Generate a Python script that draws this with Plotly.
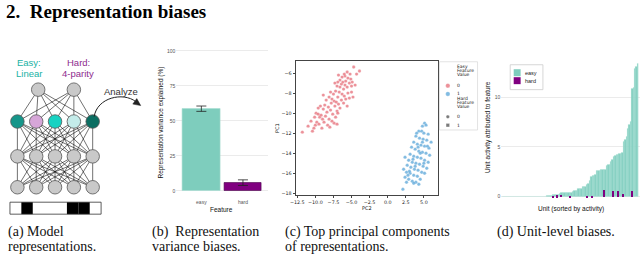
import plotly.graph_objects as go

W, H = 640, 255

# ---------------- data ----------------
# Panel a: network diagram
layer_sizes = [2, 5, 5, 5]
hidden_colors = ["#16968a", "#d6a6d8", "#18d2c2", "#c4ecea", "#0b6e62"]
input_bits = [0, 1, 0, 0, 0, 1, 1, 0]

# Panel b: variance explained
features = ["easy", "hard"]
variance_explained = [58.7, 5.9]
variance_err = [1.9, 2.0]

# Panel c: PCA (easy feature value 0 = red, 1 = blue)
red_pc2 = [-11.8, -10.4, -10.2, -10.0, -10.6, -9.8, -9.5, -9.4, -9.9, -9.6, -9.2, -9.0, -8.8, -8.3,
           -8.0, -8.6, -8.4, -8.9, -9.3, -8.7, -8.2, -7.9, -7.6, -7.4, -7.2, -7.0, -7.3, -7.8, -8.5,
           -8.1, -7.7, -7.4, -7.1, -6.8, -6.6, -6.4, -6.9, -7.5, -7.9, -7.2, -6.7, -6.3, -6.0, -5.8,
           -5.5, -5.3, -6.1, -6.6, -7.0, -6.4, -5.9, -5.6, -6.2, -5.8, -5.3, -5.0, -6.6, -6.9, -6.3,
           -5.9, -5.5, -5.1, -4.9, -6.0, -4.7, -3.9, -4.3, -5.2, -4.5, -4.8, -5.6, -8.9, -9.6, -10.1,
           -11.0, -8.1, -7.7, -6.9, -7.0, -9.1, -6.1, -5.0, -7.3, -5.6, -6.8]
red_pc1 = [-11.9, -11.8, -11.5, -11.2, -10.8, -10.9, -11.1, -10.4, -10.0, -10.1, -10.2, -10.6, -10.9, -11.2,
           -11.4, -10.3, -9.9, -9.6, -9.3, -9.2, -9.4, -9.7, -10.1, -11.0, -10.4, -9.8, -9.3, -9.0, -8.7,
           -8.4, -8.6, -8.8, -8.9, -9.1, -9.5, -8.7, -8.4, -8.1, -7.9, -7.8, -7.9, -8.1, -8.3, -8.6,
           -8.0, -8.5, -7.6, -7.4, -7.3, -7.1, -7.2, -7.4, -6.9, -6.8, -7.0, -7.3, -6.7, -6.9, -6.4,
           -6.3, -6.5, -6.6, -6.9, -6.1, -5.4, -5.8, -6.1, -6.1, -7.2, -8.4, -9.3, -8.2, -9.5, -10.4,
           -11.3, -10.6, -10.8, -10.0, -11.1, -11.5, -9.0, -7.9, -7.0, -5.9, -6.2]
blue_pc2 = [5.1, 4.8, 5.3, 4.3, 4.7, 5.0, 5.6, 3.9, 4.4, 4.9, 5.4, 6.0, 3.6, 4.1, 4.6, 5.1, 5.7, 3.3,
            3.8, 4.3, 4.8, 5.3, 5.8, 3.1, 3.6, 4.1, 4.6, 5.1, 5.6, 2.4, 2.9, 3.4, 3.9, 4.4, 4.9, 5.4,
            2.7, 3.2, 3.7, 4.2, 4.7, 2.2, 2.6, 3.1, 3.6, 4.1, 2.4, 2.9, 3.4, 3.9, 4.5, 3.6, 4.3, 2.1,
            5.1, 5.5, 4.0, 4.5, 3.0, 2.6, 5.0, 4.2, 3.5, 4.8, 3.8, 2.8]
blue_pc1 = [-11.0, -11.3, -11.2, -11.8, -11.8, -12.0, -12.1, -12.3, -12.5, -12.6, -12.7, -12.9, -12.9,
            -13.1, -13.2, -13.3, -13.5, -13.4, -13.6, -13.8, -13.9, -14.0, -14.2, -14.1, -14.3, -14.4,
            -14.5, -14.7, -14.9, -14.4, -14.7, -14.9, -15.0, -15.1, -15.3, -15.5, -15.2, -15.4, -15.6,
            -15.7, -15.9, -15.6, -15.9, -16.0, -16.2, -16.3, -16.4, -16.6, -16.8, -16.9, -16.6, -17.0,
            -17.1, -17.6, -16.0, -13.3, -12.0, -14.0, -15.8, -16.9, -15.0, -13.4, -14.6, -12.9, -15.3,
            -16.2]
pc2_ticks = [-12.5, -10.0, -7.5, -5.0, -2.5, 0.0, 2.5, 5.0]
pc1_ticks = [-6, -8, -10, -12, -14, -16, -18]

# Panel d: unit-level activity (sorted)
easy_activity = [0.01, 0.01, 0.01, 0.01, 0.01, 0.01, 0.01, 0.01, 0.01, 0.01,
                 0.02, 0.02, 0.02, 0.02, 0.02, 0.02, 0.02, 0.02, 0.02, 0.02,
                 0.03, 0.03, 0.03, 0.03, 0.03, 0.04, 0.04, 0.04, 0.05, 0.05,
                 0.06, 0.08, 0.1, 0.12, 0.15, 0.18, 0.2, 0.2, 0.22, 0.25,
                 0.3, 0.4, 0.42, 0.42, 0.43, 0.43, 0.44, 0.45, 0.45, 0.47,
                 0.6, 0.62, 0.65, 0.8, 0.82, 0.85, 1.0, 1.02, 1.05, 1.25,
                 1.3, 1.6, 2.0, 2.1, 2.15, 2.25, 2.6, 2.65, 2.65, 2.7,
                 2.7, 2.7, 2.75, 3.15, 3.2, 3.25, 3.5, 3.75, 4.0, 4.1,
                 4.2, 4.25, 4.3, 4.35, 4.45, 5.5, 5.7, 6.0, 6.8, 7.2,
                 7.5, 10.9, 11.0, 12.9, 13.1, 13.4]
hard_units = [35, 38, 41, 47, 59, 63, 71, 78, 81, 85, 91]
hard_activity = [0.15, 0.2, 0.25, 0.1, 0.08, 0.1, 0.75, 0.65, 0.65, 0.3, 0.65]

# ---------------- styles ----------------
EASY = "#7ecdbd"
HARD = "#800080"
RED = "#e5636f"
BLUE = "#4c9fd6"
SANS = "Liberation Sans"
SERIF = "Liberation Serif"


def dx(a, b):
    return [a / W, b / W]


def dy(top, bottom):
    return [1 - bottom / H, 1 - top / H]


def px(x):
    return x / W


def py(y):
    return 1 - y / H


fig = go.Figure()

# ---------------- panel a (pixel axis x4/y4) ----------------
row_y = [90, 122, 157, 188]
positions = []
for li, n in enumerate(layer_sizes):
    sp = 36 if n == 2 else 19
    cx = 50.5 if n == 2 else 49.5
    positions.append([(cx + (j - (n - 1) / 2) * sp, row_y[li]) for j in range(n)])

lx, ly = [], []
for a, b in zip(positions[:-1], positions[1:]):
    for p in a:
        for q in b:
            lx += [p[0], q[0], None]
            ly += [p[1], q[1], None]
fig.add_trace(go.Scatter(x=lx, y=ly, mode="lines", line=dict(color="#111", width=0.6),
                         xaxis="x4", yaxis="y4", showlegend=False, hoverinfo="skip"))
nx, ny, nc = [], [], []
for li, layer in enumerate(positions):
    for j, (x, y) in enumerate(layer):
        nx.append(x)
        ny.append(y)
        nc.append(hidden_colors[j] if li == 1 else "#c9c9c9")
fig.add_trace(go.Scatter(x=nx, y=ny, mode="markers",
                         marker=dict(size=13.5, color=nc, line=dict(color="#555", width=0.8)),
                         xaxis="x4", yaxis="y4", showlegend=False, hoverinfo="skip"))

shapes = []
bx0, bx1, by0, by1 = 4, 96, 203, 215
cw = (bx1 - bx0) / len(input_bits)
for k, bit in enumerate(input_bits):
    if bit:
        shapes.append(dict(type="rect", xref="x4", yref="y4", x0=bx0 + k * cw, x1=bx0 + (k + 1) * cw,
                           y0=by0, y1=by1, fillcolor="black", line=dict(width=0)))
shapes.append(dict(type="rect", xref="x4", yref="y4", x0=bx0, x1=bx1, y0=by0, y1=by1,
                   line=dict(color="#333", width=0.8)))
# analyze arrow
shapes.append(dict(type="path", xref="x4", yref="y4", path="M 89,117 C 92,98 118,92 131,102",
                   line=dict(color="#222", width=1)))
shapes.append(dict(type="path", xref="x4", yref="y4", path="M 136,106 L 128,104.5 L 132,99 Z",
                   fillcolor="#222", line=dict(color="#222", width=0.5)))

annotations = []
annotations.append(dict(text="<b>2.  Representation biases</b>", x=px(-2), y=py(12), xref="paper", yref="paper",
                        xanchor="left", yanchor="middle", showarrow=False,
                        font=dict(family=SERIF, size=19, color="black")))
for t, yy in [("Easy:", 63), ("Linear", 73.5)]:
    annotations.append(dict(text=t, x=px(23), y=py(yy), xref="paper", yref="paper", showarrow=False,
                            xanchor="center", yanchor="middle", font=dict(family=SANS, size=9.5, color="#20b2a4")))
for t, yy in [("Hard:", 63), ("4-parity", 73.5)]:
    annotations.append(dict(text=t, x=px(73), y=py(yy), xref="paper", yref="paper", showarrow=False,
                            xanchor="center", yanchor="middle", font=dict(family=SANS, size=9.5, color="#8e2c8e")))
annotations.append(dict(text="Analyze", x=px(116), y=py(92), xref="paper", yref="paper", showarrow=False,
                        xanchor="center", yanchor="middle", font=dict(family=SANS, size=9.5, color="#333")))

# ---------------- panel b ----------------
fig.add_trace(go.Bar(x=[1], y=[variance_explained[0]], width=0.9,
                     error_y=dict(type="data", array=[variance_err[0]], color="#222", thickness=0.8, width=5),
                     marker=dict(color=EASY, line=dict(color="#a8ddd2", width=0.6)),
                     xaxis="x", yaxis="y", showlegend=False))
fig.add_trace(go.Bar(x=[2], y=[variance_explained[1]], width=0.9,
                     error_y=dict(type="data", array=[variance_err[1]], color="#222", thickness=0.8, width=5),
                     marker=dict(color=HARD, line=dict(color="#4a004a", width=0.6)),
                     xaxis="x", yaxis="y", showlegend=False))

# ---------------- panel c ----------------
fig.add_trace(go.Scatter(x=red_pc2, y=red_pc1, mode="markers",
                         marker=dict(size=3.4, color=RED, opacity=0.7, line=dict(color="white", width=0.3)),
                         xaxis="x2", yaxis="y2", showlegend=False))
fig.add_trace(go.Scatter(x=blue_pc2, y=blue_pc1, mode="markers",
                         marker=dict(size=3.4, color=BLUE, opacity=0.7, line=dict(color="white", width=0.3)),
                         xaxis="x2", yaxis="y2", showlegend=False))
# legend markers
fig.add_trace(go.Scatter(x=[446, 446, 446, 446], y=[86, 94.3, 117.3, 125.7], mode="markers",
                         marker=dict(size=[4.5, 4.5, 3.5, 3.5], symbol=["circle", "circle", "circle", "square"],
                                     color=[RED, BLUE, "#444", "#444"], line=dict(color="white", width=0.3)),
                         xaxis="x4", yaxis="y4", showlegend=False, hoverinfo="skip"))
shapes.append(dict(type="rect", xref="paper", yref="paper", x0=px(437.5), x1=px(476), y0=py(130.5), y1=py(62),
                   line=dict(color="#d0d0d0", width=0.6)))
for t, yy in [("Easy", 66.5), ("Feature", 70.5), ("Value", 74.5), ("0", 86), ("1", 94.3),
              ("Hard", 99.3), ("Feature", 103.3), ("Value", 107.3), ("0", 117.3), ("1", 125.7)]:
    annotations.append(dict(text=t, x=px(453), y=py(yy), xref="paper", yref="paper", showarrow=False,
                            xanchor="left", yanchor="middle", font=dict(family="DejaVu Sans", size=4.5, color="#222")))

# ---------------- panel d ----------------
units = list(range(len(easy_activity)))
fig.add_trace(go.Bar(x=units, y=easy_activity, width=1.0,
                     marker=dict(color=EASY, line=dict(color="#b6e3da", width=0.3)),
                     xaxis="x3", yaxis="y3", showlegend=False))
fig.add_trace(go.Bar(x=hard_units, y=hard_activity, width=0.7,
                     marker=dict(color=HARD, line=dict(width=0)),
                     xaxis="x3", yaxis="y3", showlegend=False))
shapes.append(dict(type="rect", xref="paper", yref="paper", x0=px(509), x1=px(542), y0=py(90), y1=py(65),
                   fillcolor="white", line=dict(color="#cccccc", width=0.8)))
shapes.append(dict(type="rect", xref="paper", yref="paper", x0=px(512.5), x1=px(519.5), y0=py(76.5), y1=py(69.5),
                   fillcolor=EASY, line=dict(width=0)))
shapes.append(dict(type="rect", xref="paper", yref="paper", x0=px(512.5), x1=px(519.5), y0=py(84.5), y1=py(77.5),
                   fillcolor=HARD, line=dict(width=0)))
for t, yy in [("easy", 73), ("hard", 81)]:
    annotations.append(dict(text=t, x=px(521.5), y=py(yy), xref="paper", yref="paper", showarrow=False,
                            xanchor="left", yanchor="middle", font=dict(family=SANS, size=5.5, color="#222")))

# ---------------- axis titles ----------------
def title(text, x, y, angle=0, size=6.5, family=SANS, color="#111"):
    annotations.append(dict(text=text, x=px(x), y=py(y), xref="paper", yref="paper", showarrow=False,
                            textangle=angle, xanchor="center", yanchor="middle",
                            font=dict(family=family, size=size, color=color)))

title("Representation variance explained (%)", 155.5, 123, -90)
title("Feature", 218, 210.5)
title("PC1", 274, 128, -90, 5, "DejaVu Sans")
title("PC2", 364, 208.5, 0, 5, "DejaVu Sans")
title("Unit activity attributed to feature", 486, 127, -90)
title("Unit (sorted by activity)", 570, 210)

# ---------------- captions ----------------
captions = [(0, ["(a) Model", "representations."]),
            (145, ["(b)  Representation", "variance biases."]),
            (280, ["(c) Top principal components", "of representations."]),
            (494, ["(d) Unit-level biases."])]
for x0, lines in captions:
    for k, t in enumerate(lines):
        annotations.append(dict(text=t, x=px(x0), y=py(233 + 14 * k), xref="paper", yref="paper",
                                showarrow=False, xanchor="left", yanchor="middle",
                                font=dict(family=SERIF, size=14, color="#111")))

gridc = "#ebebeb"
fig.update_layout(
    width=W, height=H, margin=dict(l=0, r=0, t=0, b=0),
    paper_bgcolor="white", plot_bgcolor="rgba(0,0,0,0)",
    barmode="overlay", bargap=0,
    shapes=shapes, annotations=annotations,
    xaxis=dict(domain=dx(172, 264.4), anchor="y", range=[0.4, 2.6], tickvals=[1, 2], ticktext=features,
               showgrid=False, zeroline=False, showline=False, ticks="",
               tickfont=dict(family=SANS, size=5, color="#555"), fixedrange=True),
    yaxis=dict(domain=dy(44, 198.7), anchor="x", range=[-5, 105], tickvals=[0, 25, 50, 75, 100],
               showgrid=True, gridcolor=gridc, gridwidth=0.6, zeroline=False, showline=False, ticks="",
               tickfont=dict(family=SANS, size=5, color="#555"), fixedrange=True),
    xaxis2=dict(domain=dx(292.7, 435.7), anchor="y2", range=[-12.68, 6.9], tickvals=pc2_ticks, tickformat=".1f",
                showgrid=False, zeroline=False, showline=True, mirror=True, linecolor="#444", linewidth=0.8,
                ticks="outside", ticklen=2.5, tickwidth=0.6, tickcolor="#444",
                tickfont=dict(family="DejaVu Sans", size=4.8, color="#222"), fixedrange=True),
    yaxis2=dict(domain=dy(61.7, 195.7), anchor="x2", range=[-18.17, -4.84], tickvals=pc1_ticks,
                showgrid=False, zeroline=False, showline=True, mirror=True, linecolor="#444", linewidth=0.8,
                ticks="outside", ticklen=2.5, tickwidth=0.6, tickcolor="#444",
                tickfont=dict(family="DejaVu Sans", size=4.8, color="#222"), fixedrange=True),
    xaxis3=dict(domain=dx(500, 640), anchor="y3", range=[-1.4, 96.5], showticklabels=False, showgrid=False,
                zeroline=False, showline=False, ticks="", fixedrange=True),
    yaxis3=dict(domain=dy(56.8, 204.2), anchor="x3", range=[-0.67, 14.07], tickvals=[0, 5, 10],
                showgrid=True, gridcolor=gridc, gridwidth=0.6, zeroline=False, showline=False, ticks="",
                tickfont=dict(family=SANS, size=5, color="#555"), fixedrange=True),
    xaxis4=dict(domain=[0, 1], anchor="y4", range=[0, W], visible=False, fixedrange=True),
    yaxis4=dict(domain=[0, 1], anchor="x4", range=[H, 0], visible=False, fixedrange=True),
)

fig.write_html("out.html", config={"displayModeBar": False},
               post_script="document.body.style.margin='0px';document.body.style.overflow='hidden';")
